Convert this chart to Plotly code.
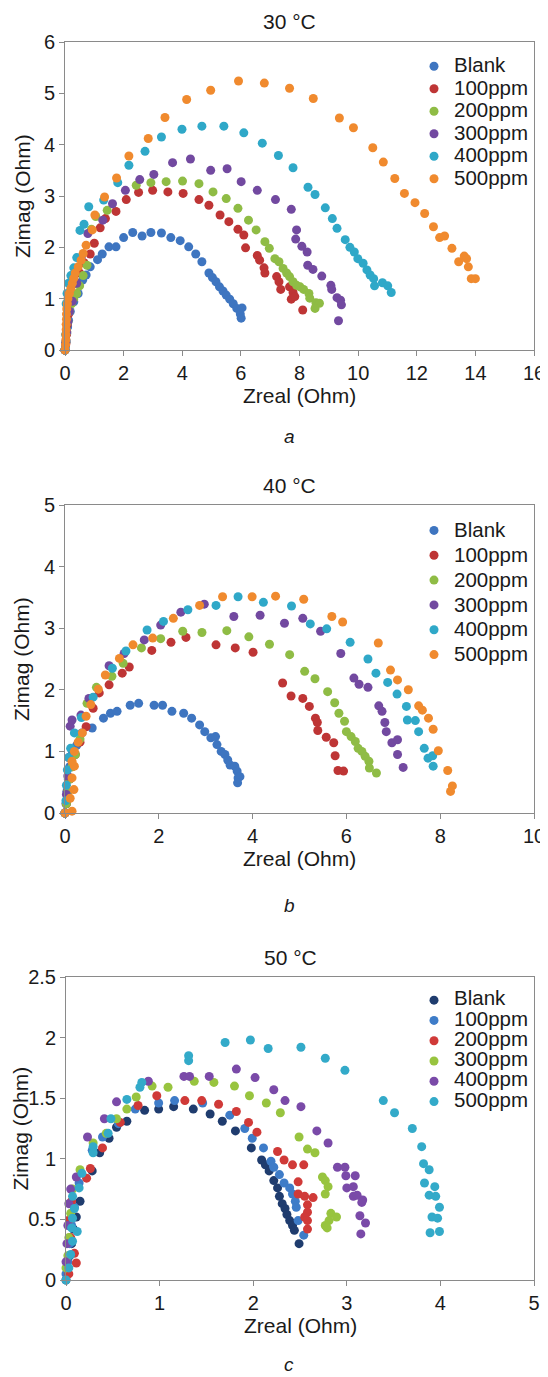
import plotly.graph_objects as go

# ---------------- data ----------------
series_names = ["Blank", "100ppm", "200ppm", "300ppm", "400ppm", "500ppm"]

# panel a : 30 °C
a_blank_x = [0.0, 0.02, 0.04, 0.06, 0.09, 0.12, 0.18, 0.30, 0.45, 0.60, 0.72, 0.86, 1.11, 1.27, 1.50, 1.74, 2.00, 2.31, 2.63, 2.93, 3.29, 3.61, 3.93, 4.22, 4.46, 4.67, 4.91, 5.03, 5.15, 5.27, 5.39, 5.50, 5.62, 5.74, 5.86, 6.04, 5.98, 6.01]
a_blank_y = [0.0, 0.08, 0.18, 0.32, 0.45, 0.58, 0.75, 0.94, 1.10, 1.36, 1.46, 1.62, 1.76, 1.87, 2.01, 2.01, 2.19, 2.29, 2.22, 2.29, 2.28, 2.19, 2.13, 2.01, 1.87, 1.72, 1.50, 1.41, 1.33, 1.23, 1.15, 1.07, 0.99, 0.90, 0.81, 0.82, 0.70, 0.62]
a_100_x = [0.0, 0.03, 0.05, 0.08, 0.12, 0.18, 0.25, 0.35, 0.5, 0.65, 0.86, 1.00, 1.20, 1.38, 1.74, 2.09, 2.51, 2.99, 3.51, 4.03, 4.57, 4.91, 5.29, 5.59, 5.90, 6.10, 6.16, 6.56, 6.64, 6.79, 6.82, 7.22, 7.30, 7.36, 7.66, 7.78, 7.72, 7.84, 8.11]
a_100_y = [0.0, 0.12, 0.3, 0.5, 0.7, 0.9, 1.1, 1.3, 1.5, 1.7, 1.87, 2.08, 2.38, 2.56, 2.70, 2.93, 3.07, 3.11, 3.08, 3.05, 2.93, 2.82, 2.63, 2.50, 2.35, 2.24, 1.99, 1.84, 1.75, 1.60, 1.50, 1.43, 1.33, 1.18, 1.23, 1.12, 0.99, 1.04, 0.78]
a_200_x = [0.0, 0.03, 0.06, 0.1, 0.15, 0.22, 0.3, 0.4, 0.5, 0.62, 0.75, 0.90, 1.05, 1.44, 2.43, 2.93, 3.45, 4.01, 4.57, 5.05, 5.50, 5.90, 6.26, 6.52, 6.82, 6.97, 7.16, 7.30, 7.44, 7.56, 7.66, 7.78, 7.90, 8.02, 8.14, 8.32, 8.35, 8.56, 8.68, 8.53]
a_200_y = [0.0, 0.15, 0.35, 0.55, 0.75, 0.9, 1.0, 1.1, 1.25, 1.45, 1.65, 2.35, 2.6, 2.72, 3.21, 3.26, 3.28, 3.29, 3.24, 3.08, 2.95, 2.76, 2.53, 2.34, 2.11, 1.98, 1.78, 1.72, 1.59, 1.50, 1.43, 1.33, 1.26, 1.23, 1.18, 1.10, 1.01, 0.92, 0.91, 0.81]
a_300_x = [0.0, 0.03, 0.06, 0.1, 0.15, 0.25, 0.4, 0.55, 0.78, 1.29, 1.62, 2.06, 2.55, 3.03, 3.67, 4.28, 4.97, 5.53, 6.01, 6.56, 7.18, 7.72, 7.90, 7.87, 8.08, 8.26, 8.28, 8.46, 8.76, 9.07, 9.10, 9.28, 9.40, 9.43, 9.33]
a_300_y = [0.0, 0.15, 0.35, 0.55, 0.75, 0.95, 1.3, 1.8, 2.27, 2.53, 2.85, 3.11, 3.32, 3.42, 3.65, 3.72, 3.50, 3.53, 3.28, 3.11, 2.93, 2.74, 2.34, 2.16, 2.02, 1.91, 1.65, 1.57, 1.44, 1.26, 1.18, 1.02, 0.97, 0.88, 0.57]
a_400_x = [0.0, 0.02, 0.04, 0.07, 0.12, 0.2, 0.3, 0.4, 0.51, 0.65, 0.81, 1.32, 1.80, 2.18, 2.73, 3.29, 3.99, 4.67, 5.42, 6.10, 6.73, 7.28, 7.78, 8.29, 8.53, 8.88, 9.12, 9.28, 9.56, 9.72, 9.87, 9.99, 10.17, 10.30, 10.41, 10.53, 10.56, 10.83, 11.01, 11.13]
a_400_y = [0.0, 0.3, 0.9, 1.1, 1.3, 1.45, 1.6, 1.8, 2.33, 2.45, 2.79, 2.92, 3.26, 3.60, 3.87, 4.15, 4.30, 4.36, 4.36, 4.23, 4.03, 3.79, 3.55, 3.17, 3.03, 2.77, 2.56, 2.37, 2.15, 2.00, 1.91, 1.78, 1.69, 1.56, 1.46, 1.39, 1.25, 1.31, 1.25, 1.12]
a_500_x = [0.0, 0.02, 0.03, 0.03, 0.04, 0.04, 0.05, 0.05, 0.06, 0.08, 0.1, 0.15, 0.2, 0.25, 0.3, 0.35, 0.45, 0.55, 0.62, 0.72, 0.93, 1.02, 1.35, 1.76, 2.18, 2.84, 3.41, 4.15, 4.97, 5.92, 6.80, 7.66, 8.47, 9.36, 9.84, 10.50, 10.86, 11.25, 11.58, 11.94, 12.27, 12.57, 12.78, 12.95, 13.20, 13.43, 13.62, 13.70, 13.76, 13.86, 14.00]
a_500_y = [0.0, 0.1, 0.2, 0.3, 0.4, 0.5, 0.6, 0.7, 0.8, 0.9, 1.0, 1.1, 1.2, 1.3, 1.4, 1.5, 1.62, 1.75, 1.88, 2.04, 2.34, 2.63, 2.98, 3.35, 3.78, 4.12, 4.53, 4.88, 5.06, 5.24, 5.20, 5.10, 4.90, 4.52, 4.33, 3.94, 3.66, 3.34, 3.05, 2.87, 2.66, 2.40, 2.19, 2.22, 1.98, 1.72, 1.83, 1.78, 1.62, 1.39, 1.39]

# panel b : 40 °C
b_blank_x = [0.0, 0.02, 0.04, 0.07, 0.1, 0.15, 0.25, 0.36, 0.58, 0.82, 0.97, 1.11, 1.39, 1.57, 1.90, 2.08, 2.28, 2.53, 2.70, 2.87, 2.98, 3.11, 3.21, 3.24, 3.33, 3.41, 3.47, 3.52, 3.62, 3.67, 3.69, 3.73, 3.68]
b_blank_y = [0.0, 0.15, 0.35, 0.55, 0.75, 0.95, 1.1, 1.3, 1.38, 1.54, 1.62, 1.65, 1.75, 1.78, 1.75, 1.75, 1.65, 1.62, 1.54, 1.43, 1.32, 1.22, 1.24, 1.11, 1.00, 0.95, 0.86, 0.78, 0.76, 0.68, 0.57, 0.59, 0.49]
b_100_x = [0.0, 0.03, 0.06, 0.1, 0.15, 0.22, 0.32, 0.45, 0.6, 0.73, 0.94, 1.22, 1.37, 1.85, 2.26, 2.58, 3.22, 3.63, 4.01, 4.64, 4.82, 5.07, 5.21, 5.34, 5.38, 5.39, 5.57, 5.73, 5.76, 5.82, 5.94]
b_100_y = [0.0, 0.15, 0.35, 0.55, 0.75, 0.95, 1.15, 1.4, 1.7, 1.95, 2.08, 2.27, 2.37, 2.64, 2.77, 2.85, 2.73, 2.68, 2.61, 2.11, 1.90, 1.86, 1.73, 1.54, 1.47, 1.34, 1.23, 1.14, 0.93, 0.69, 0.68]
b_200_x = [0.0, 0.03, 0.06, 0.1, 0.15, 0.22, 0.32, 0.47, 0.67, 1.00, 1.24, 1.63, 2.04, 2.51, 2.92, 3.45, 3.92, 4.36, 4.79, 5.11, 5.33, 5.60, 5.75, 5.84, 5.96, 6.00, 6.10, 6.19, 6.25, 6.33, 6.40, 6.48, 6.49, 6.64]
b_200_y = [0.0, 0.15, 0.35, 0.55, 0.75, 0.95, 1.2, 1.78, 2.04, 2.22, 2.43, 2.68, 2.83, 2.95, 2.93, 2.96, 2.86, 2.74, 2.57, 2.30, 2.18, 1.97, 1.79, 1.62, 1.49, 1.32, 1.24, 1.16, 1.05, 1.00, 0.92, 0.84, 0.73, 0.65]
b_300_x = [0.0, 0.03, 0.06, 0.08, 0.11, 0.15, 0.34, 0.51, 0.94, 1.26, 1.69, 2.04, 2.47, 2.97, 3.60, 4.16, 4.68, 5.07, 5.45, 5.88, 6.16, 6.27, 6.46, 6.69, 6.76, 6.82, 6.85, 6.97, 7.09, 7.09, 7.21]
b_300_y = [0.0, 0.3, 0.6, 0.9, 1.41, 1.51, 1.59, 1.86, 2.39, 2.59, 2.81, 3.05, 3.26, 3.39, 3.19, 3.21, 3.08, 3.16, 2.95, 2.59, 2.19, 2.09, 2.04, 1.74, 1.65, 1.47, 1.32, 1.14, 1.19, 0.95, 0.74]
b_400_x = [0.0, 0.02, 0.03, 0.05, 0.08, 0.12, 0.2, 0.35, 0.60, 1.01, 1.30, 1.75, 2.10, 2.62, 3.22, 3.69, 4.23, 4.83, 5.23, 5.58, 6.08, 6.46, 6.63, 6.88, 7.08, 7.28, 7.30, 7.47, 7.54, 7.66, 7.74, 7.84, 7.85]
b_400_y = [0.0, 0.2, 0.45, 0.7, 0.9, 1.05, 1.3, 1.55, 1.88, 2.35, 2.63, 2.97, 3.11, 3.30, 3.37, 3.51, 3.42, 3.36, 3.07, 2.99, 2.77, 2.50, 2.27, 2.12, 1.93, 1.73, 1.51, 1.50, 1.32, 1.05, 0.89, 0.93, 0.76]
b_500_x = [0.0, 0.15, 0.11, 0.19, 0.15, 0.20, 0.15, 0.20, 0.28, 0.37, 0.45, 0.55, 0.71, 0.86, 1.16, 1.45, 1.87, 2.31, 2.87, 3.36, 3.99, 4.49, 5.09, 5.69, 5.92, 6.68, 6.94, 7.09, 7.32, 7.54, 7.62, 7.75, 7.85, 7.96, 8.16, 8.26, 8.22]
b_500_y = [0.0, 0.03, 0.24, 0.38, 0.57, 0.76, 0.84, 1.00, 1.15, 1.30, 1.57, 1.76, 2.01, 2.24, 2.51, 2.73, 2.84, 3.16, 3.37, 3.51, 3.51, 3.52, 3.47, 3.19, 3.10, 2.76, 2.32, 2.16, 2.00, 1.74, 1.67, 1.54, 1.36, 1.01, 0.69, 0.44, 0.35]

# panel c : 50 °C
c_blank_x = [0.0, 0.02, 0.04, 0.06, 0.08, 0.11, 0.15, 0.28, 0.36, 0.46, 0.54, 0.65, 0.84, 0.99, 1.15, 1.36, 1.54, 1.67, 1.81, 1.98, 2.09, 2.13, 2.17, 2.22, 2.26, 2.28, 2.31, 2.34, 2.36, 2.39, 2.42, 2.44, 2.49]
c_blank_y = [0.0, 0.1, 0.2, 0.3, 0.42, 0.52, 0.65, 0.9, 1.05, 1.17, 1.26, 1.31, 1.40, 1.41, 1.43, 1.41, 1.37, 1.31, 1.23, 1.09, 0.99, 0.95, 0.90, 0.82, 0.76, 0.69, 0.63, 0.59, 0.54, 0.49, 0.45, 0.41, 0.30]
c_100_x = [0.0, 0.02, 0.04, 0.06, 0.09, 0.14, 0.28, 0.39, 0.56, 0.74, 0.99, 1.16, 1.46, 1.75, 1.91, 1.99, 2.11, 2.19, 2.22, 2.28, 2.33, 2.39, 2.42, 2.45, 2.46, 2.48, 2.54]
c_100_y = [0.05, 0.15, 0.3, 0.45, 0.6, 0.80, 1.07, 1.18, 1.29, 1.41, 1.46, 1.48, 1.46, 1.36, 1.25, 1.17, 1.09, 0.98, 0.93, 0.87, 0.80, 0.76, 0.71, 0.65, 0.60, 0.49, 0.37]
c_200_x = [0.03, 0.11, 0.09, 0.05, 0.04, 0.06, 0.22, 0.26, 0.39, 0.58, 0.77, 0.97, 1.27, 1.45, 1.63, 1.82, 1.95, 2.04, 2.26, 2.33, 2.42, 2.54, 2.48, 2.48, 2.55, 2.58, 2.58, 2.55, 2.58, 2.58, 2.64]
c_200_y = [0.05, 0.14, 0.22, 0.35, 0.5, 0.65, 0.84, 0.92, 1.09, 1.30, 1.44, 1.52, 1.48, 1.48, 1.45, 1.39, 1.30, 1.22, 1.06, 0.99, 0.95, 0.95, 0.81, 0.71, 0.69, 0.62, 0.56, 0.52, 0.49, 0.42, 0.68]
c_300_x = [0.0, 0.02, 0.03, 0.05, 0.07, 0.15, 0.29, 0.43, 0.54, 0.65, 0.75, 0.92, 1.09, 1.37, 1.58, 1.80, 1.96, 2.14, 2.29, 2.49, 2.58, 2.66, 2.74, 2.77, 2.80, 2.77, 2.83, 2.89, 2.81, 2.77, 2.79]
c_300_y = [0.10, 0.2, 0.35, 0.55, 0.75, 0.91, 1.13, 1.21, 1.33, 1.41, 1.51, 1.60, 1.59, 1.64, 1.63, 1.60, 1.52, 1.46, 1.38, 1.18, 1.08, 1.05, 0.85, 0.82, 0.77, 0.71, 0.55, 0.52, 0.49, 0.45, 0.43]
c_400_x = [0.0, 0.01, 0.02, 0.03, 0.05, 0.11, 0.23, 0.41, 0.54, 0.88, 1.26, 1.32, 1.53, 1.82, 2.02, 2.22, 2.34, 2.51, 2.68, 2.80, 2.90, 2.98, 2.99, 3.09, 3.00, 3.07, 3.07, 3.11, 3.17, 3.16, 3.14, 3.20, 3.15]
c_400_y = [0.15, 0.3, 0.45, 0.63, 0.75, 0.85, 1.18, 1.33, 1.47, 1.64, 1.68, 1.68, 1.68, 1.74, 1.67, 1.57, 1.48, 1.43, 1.23, 1.13, 0.93, 0.93, 0.86, 0.86, 0.76, 0.77, 0.69, 0.70, 0.66, 0.64, 0.53, 0.47, 0.38]
c_500_x = [0.0, 0.03, 0.05, 0.07, 0.06, 0.12, 0.07, 0.09, 0.07, 0.14, 0.17, 0.29, 0.29, 0.45, 0.48, 0.65, 0.79, 0.81, 1.31, 1.31, 1.70, 1.97, 2.16, 2.51, 2.77, 2.98, 3.39, 3.51, 3.70, 3.80, 3.82, 3.88, 3.83, 3.94, 3.88, 3.95, 3.99, 3.91, 3.97, 3.89, 3.99]
c_500_y = [0.0, 0.10, 0.21, 0.32, 0.43, 0.40, 0.51, 0.59, 0.69, 0.76, 0.88, 1.05, 1.10, 1.21, 1.33, 1.49, 1.59, 1.63, 1.81, 1.85, 1.96, 1.98, 1.91, 1.92, 1.83, 1.73, 1.48, 1.38, 1.25, 1.10, 0.96, 0.91, 0.80, 0.77, 0.70, 0.69, 0.60, 0.52, 0.51, 0.39, 0.40]

panel_titles = ["30 °C", "40 °C", "50 °C"]
panel_labels = ["a", "b", "c"]
x_ranges = [16, 10, 5]
x_dticks = [2, 2, 1]
y_ranges = [6, 5, 2.5]
y_dticks = [1, 1, 0.5]

# ---------------- style ----------------
PAGE_W, PAGE_H = 548, 1377
OFF = 8                         # default page margin of the html body
W, H = PAGE_W - OFF, PAGE_H - OFF
FONT = "Liberation Sans, Arial, sans-serif"
TXT = "#1a1a1a"
AXC = "#8a8a8a"
colors_ab = ["#3E75C0", "#BE3535", "#8FBC45", "#7249A0", "#2FA8C8", "#F08A2E"]
colors_c = ["#1F3C6E", "#3E7CC8", "#D03A38", "#98C43F", "#7A4AA8", "#33AAC9"]

# plot-area boxes in page pixels: (left, right, top, bottom)
boxes = [(65, 534, 42, 350), (65, 534, 505, 813), (66, 534, 977, 1280)]
legend_row_font = [15, 16.8, 13.3]      # controls legend row spacing
ytitle_x = [23, 21, 20]
label_y = [437, 905, 1364]

data_sets = [
    [(a_blank_x, a_blank_y), (a_100_x, a_100_y), (a_200_x, a_200_y), (a_300_x, a_300_y), (a_400_x, a_400_y), (a_500_x, a_500_y)],
    [(b_blank_x, b_blank_y), (b_100_x, b_100_y), (b_200_x, b_200_y), (b_300_x, b_300_y), (b_400_x, b_400_y), (b_500_x, b_500_y)],
    [(c_blank_x, c_blank_y), (c_100_x, c_100_y), (c_200_x, c_200_y), (c_300_x, c_300_y), (c_400_x, c_400_y), (c_500_x, c_500_y)],
]


def px(x):
    return (x - OFF) / W


def py(y):
    return 1 - (y - OFF) / H


fig = go.Figure()
layout = dict(
    width=W, height=H,
    margin=dict(l=0, r=0, t=0, b=0),
    paper_bgcolor="white", plot_bgcolor="white",
    font=dict(family=FONT, color=TXT, size=20),
    annotations=[],
)

for i in range(3):
    sfx = "" if i == 0 else str(i + 1)
    L, R, T, B = boxes[i]
    cols = colors_ab if i < 2 else colors_c
    leg = "legend" if i == 0 else "legend" + str(i + 1)
    for k, (xs, ys) in enumerate(data_sets[i]):
        fig.add_trace(go.Scatter(
            x=xs, y=ys, mode="markers",
            name='<span style="font-size:20.5px">' + series_names[k] + "</span>",
            marker=dict(color=cols[k], size=9, line=dict(width=0)),
            xaxis="x" + sfx, yaxis="y" + sfx, legend=leg,
            cliponaxis=False, showlegend=True,
        ))
    axcommon = dict(showline=True, mirror=True, linecolor=AXC, linewidth=1,
                    ticks="outside", ticklen=5, tickcolor=AXC, showgrid=False,
                    zeroline=False, automargin=False,
                    tickfont=dict(family=FONT, size=20, color=TXT))
    layout["xaxis" + sfx] = dict(domain=[px(L), px(R)], anchor="y" + sfx,
                                 range=[0, x_ranges[i]], dtick=x_dticks[i], tick0=0, **axcommon)
    layout["yaxis" + sfx] = dict(domain=[py(B), py(T)], anchor="x" + sfx,
                                 range=[0, y_ranges[i]], dtick=y_dticks[i], tick0=0, **axcommon)
    layout[leg] = dict(x=px(414), xanchor="left", y=py(T + 8), yanchor="top",
                       bgcolor="rgba(0,0,0,0)", borderwidth=0,
                       font=dict(family=FONT, size=legend_row_font[i], color=TXT),
                       itemwidth=30, tracegroupgap=0)
    cx = (L + R) / 2
    layout["annotations"] += [
        dict(text=panel_titles[i], x=px(cx - 10), y=py(T - 20), xref="paper", yref="paper",
             showarrow=False, xanchor="center", yanchor="middle",
             font=dict(family=FONT, size=21, color=TXT)),
        dict(text="Zreal (Ohm)", x=px(cx), y=py(B + 45), xref="paper", yref="paper",
             showarrow=False, xanchor="center", yanchor="middle",
             font=dict(family=FONT, size=21, color=TXT)),
        dict(text="Zimag (Ohm)", x=px(ytitle_x[i]), y=py((T + B) / 2), xref="paper", yref="paper",
             showarrow=False, xanchor="center", yanchor="middle", textangle=-90,
             font=dict(family=FONT, size=21, color=TXT)),
        dict(text="<i>" + panel_labels[i] + "</i>", x=px(289), y=py(label_y[i]),
             xref="paper", yref="paper", showarrow=False, xanchor="center", yanchor="middle",
             font=dict(family=FONT, size=19, color=TXT)),
    ]

fig.update_layout(**layout)
fig.write_html("out.html")
